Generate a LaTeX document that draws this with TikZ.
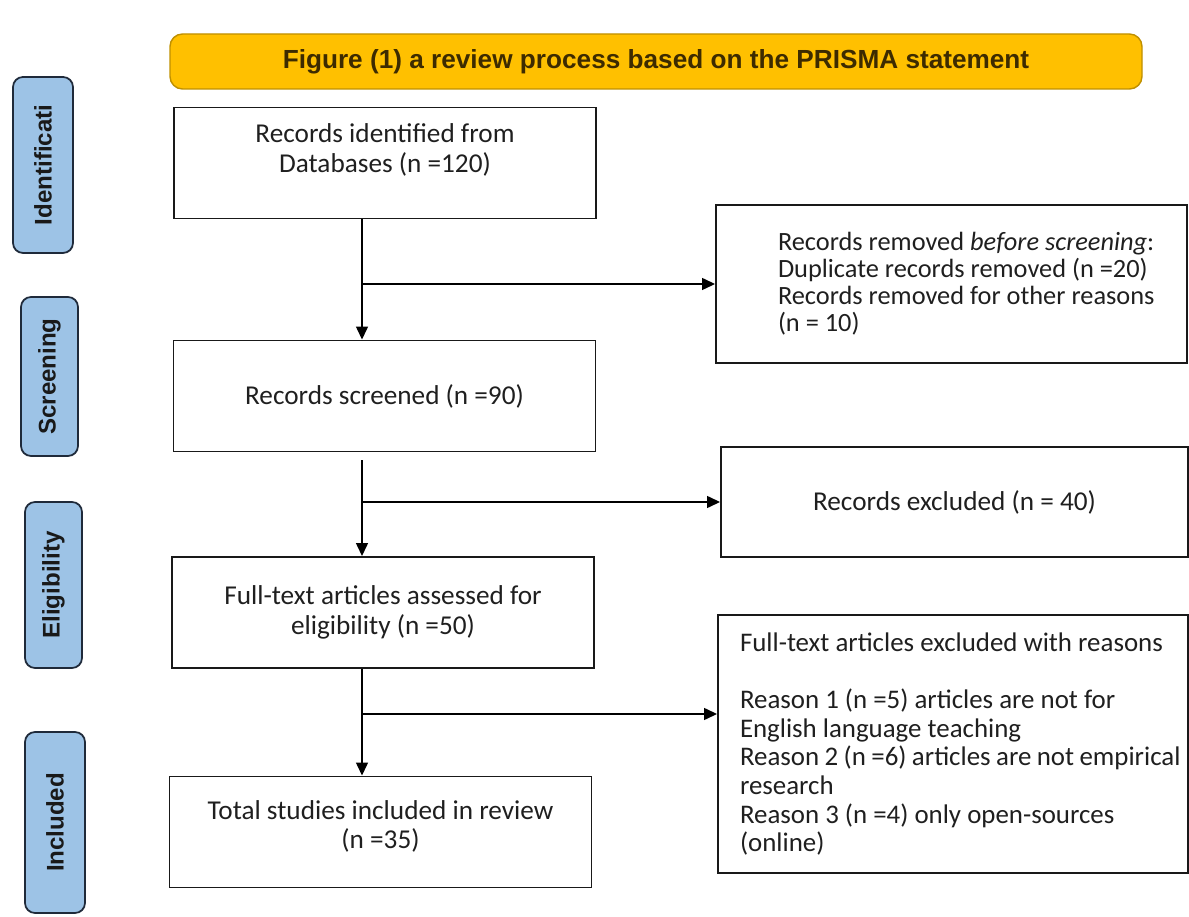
\documentclass[tikz,border=0pt]{standalone}
\usepackage{fontspec}
\setmainfont{Carlito}
\newfontfamily\labelfont{Liberation Sans}
\usetikzlibrary{arrows.meta}

\definecolor{bannerfill}{HTML}{FFC000}
\definecolor{bannerdraw}{HTML}{BF9000}
\definecolor{titletext}{HTML}{3D2B00}
\definecolor{stagefill}{HTML}{9DC3E6}
\definecolor{stagedraw}{HTML}{1F2A3A}

\begin{document}
\begin{tikzpicture}[
  mainbox/.style={rectangle, draw=black!90, line width=1.1pt, minimum width=8.44cm, minimum height=2.22cm, align=center, text=black!88, font=\fontsize{15.5}{17}\selectfont},
  sidebox/.style={rectangle, draw=black!90, line width=1.1pt, inner xsep=2pt, text=black!88},
  stagebox/.style={rectangle, rounded corners=0.2cm, draw=stagedraw, fill=stagefill, line width=1pt, rotate=90, inner sep=0pt, text=black!90, font=\labelfont\bfseries\fontsize{13.7}{14}\selectfont},
  banner/.style={rectangle, rounded corners=0.25cm, draw=bannerdraw, fill=bannerfill, line width=0.8pt, minimum width=19.44cm, minimum height=1.1cm, text=titletext, font=\labelfont\bfseries\fontsize{14.9}{16}\selectfont},
  flowarrow/.style={-{Triangle[length=0.26cm,width=0.24cm]}, line width=0.8pt}
]
\useasboundingbox (0,0) rectangle (23.78,-18.34);

% Title
\node[banner] (title) at (13.12,-1.23) {Figure (1) a review process based on the PRISMA statement};

% Stage labels
\node[stagebox, minimum width=3.52cm, minimum height=1.2cm] (stageid) at (0.86,-3.30) {Identificati};
\node[stagebox, minimum width=3.18cm, minimum height=1.14cm] (stagescr) at (0.99,-7.53) {Screening};
\node[stagebox, minimum width=3.32cm, minimum height=1.14cm] (stageel) at (1.07,-11.70) {Eligibility};
\node[stagebox, minimum width=3.62cm, minimum height=1.2cm] (stagein) at (1.10,-16.45) {Included};

% Flow boxes
\node[mainbox] (ident) at (7.70,-3.26) {Records identified from\\Databases (n =120)\\\mbox{}};
\node[mainbox] (scr) at (7.69,-7.92) {Records screened (n =90)};
\node[mainbox] (full) at (7.66,-12.25) {Full-text articles assessed for\\eligibility (n =50)};
\node[mainbox] (total) at (7.61,-16.64) {Total studies included in review\\(n =35)\\[-0.3cm]\mbox{}};

% Exclusion boxes
\node[sidebox, minimum width=9.42cm, minimum height=3.16cm] (removed) at (19.03,-5.68) {%
  \begin{minipage}{9.1cm}\fontsize{15}{15.3}\selectfont\raggedright\leftskip=1.08cm
  Records removed \textit{before screening}:\\Duplicate records removed (n =20)\\Records removed for other reasons\\(n = 10)
  \end{minipage}};
\node[mainbox, minimum width=9.34cm, minimum height=2.2cm] (excl) at (19.09,-10.04) {Records excluded (n = 40)};
\node[sidebox, minimum width=9.40cm, minimum height=5.16cm] (fte) at (19.06,-14.88) {%
  \begin{minipage}{9.1cm}\fontsize{15.3}{16.3}\selectfont\raggedright\leftskip=0.29cm
  Full-text articles excluded with reasons\\[\baselineskip]Reason 1 (n =5) articles are not for\\English language teaching\\Reason 2 (n =6) articles are not empirical\\research\\Reason 3 (n =4) only open-sources\\(online)
  \end{minipage}};

% Arrows
\coordinate (spine) at (7.24,0);
\coordinate (fteIn) at ([yshift=0.6cm]fte.west);
\draw[flowarrow] (ident.south -| spine) -- (scr.north -| spine);
\draw[flowarrow] (removed.west -| spine) -- (removed.west);
\draw[flowarrow, shorten <=0.16cm] (scr.south -| spine) -- (full.north -| spine);
\draw[flowarrow] (excl.west -| spine) -- (excl.west);
\draw[flowarrow] (full.south -| spine) -- (total.north -| spine);
\draw[flowarrow] (fteIn -| spine) -- (fteIn);

\end{tikzpicture}
\end{document}
